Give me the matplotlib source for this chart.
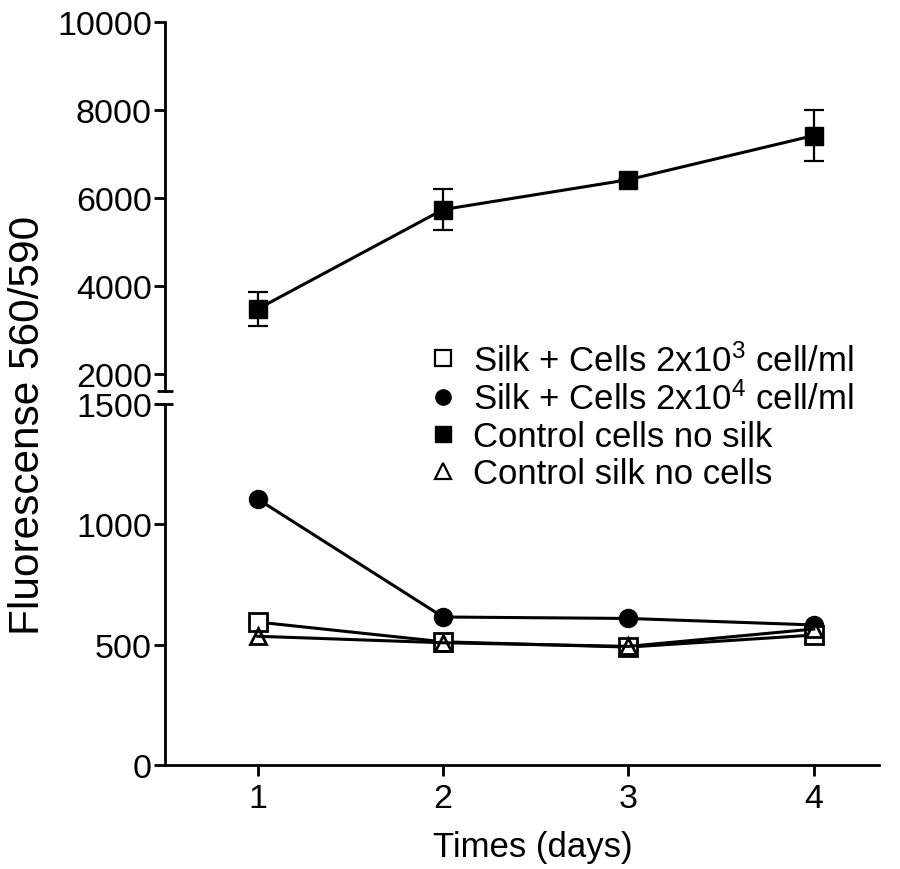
import numpy as np
import matplotlib
matplotlib.use("Agg")
import matplotlib.pyplot as plt
from matplotlib.lines import Line2D

plt.rcParams['font.family'] = ['Liberation Sans', 'DejaVu Sans']
plt.rcParams['mathtext.fontset'] = 'custom'
plt.rcParams['mathtext.rm'] = 'Liberation Sans'
plt.rcParams['mathtext.it'] = 'Liberation Sans'
plt.rcParams['mathtext.bf'] = 'Liberation Sans'

# data
days = [1, 2, 3, 4]
silk_2e3 = [594, 512, 490, 540]
silk_2e4 = [1105, 615, 609, 582]
control_cells = [3475, 5740, 6420, 7425]
control_cells_err = [380, 465, 0, 590]
control_silk = [535, 508, 493, 565]

labels = ['Silk + Cells 2x10$^{3}$ cell/ml',
          'Silk + Cells 2x10$^{4}$ cell/ml',
          'Control cells no silk',
          'Control silk no cells']

fig = plt.figure(figsize=(9, 8.7), dpi=100)
ax_top = fig.add_axes([0.1833, 0.549, 0.793, 0.424])
ax_bot = fig.add_axes([0.1833, 0.1195, 0.793, 0.415])

lw = 2.2
ms = 13

# upper segment
ax_top.errorbar(days, control_cells, yerr=control_cells_err, color='black',
                lw=lw, marker='s', ms=ms, capsize=7, capthick=1.6,
                elinewidth=1.6, zorder=3)

# lower segment
ax_bot.plot(days, silk_2e4, color='black', lw=lw, marker='o', ms=ms, zorder=3)
ax_bot.plot(days, silk_2e3, color='black', lw=lw, marker='s', ms=ms,
            mfc='white', mec='black', mew=2, zorder=4)
ax_bot.plot(days, control_silk, color='black', lw=lw, marker='^', ms=ms - 1,
            mfc='none', mec='black', mew=2, zorder=5)

for ax in (ax_top, ax_bot):
    ax.set_xlim(0.5, 4.35)
    ax.spines['top'].set_visible(False)
    ax.spines['right'].set_visible(False)
    ax.spines['left'].set_linewidth(2)
    ax.spines['bottom'].set_linewidth(2)
    ax.tick_params(axis='both', direction='out', length=8, width=2,
                   labelsize=24.5, pad=5)
    ax.tick_params(axis='y', pad=1.5)

ax_top.set_ylim(1600, 10000)
ax_top.set_yticks([2000, 4000, 6000, 8000, 10000])
ax_top.spines['bottom'].set_visible(False)
ax_top.tick_params(axis='x', bottom=False, labelbottom=False)

ax_bot.set_ylim(0, 1500)
ax_bot.set_yticks([0, 500, 1000, 1500])
ax_bot.set_xticks(days)

# break caps at the spine ends
ax_top.plot([0], [0], marker='_', ms=12, mew=2, color='black',
            transform=ax_top.transAxes, clip_on=False)
ax_bot.plot([0], [1], marker='_', ms=12, mew=2, color='black',
            transform=ax_bot.transAxes, clip_on=False)

fig.text(0.031, 0.511, 'Fluorescense 560/590', rotation=90, fontsize=30.5,
         ha='center', va='center')
fig.text(0.592, 0.026, 'Times (days)', fontsize=25, ha='center', va='center')

handles = [
    Line2D([], [], ls='none', marker='s', ms=11, mfc='white', mec='black', mew=1.6),
    Line2D([], [], ls='none', marker='o', ms=11, color='black'),
    Line2D([], [], ls='none', marker='s', ms=11, color='black'),
    Line2D([], [], ls='none', marker='^', ms=11, mfc='white', mec='black', mew=1.6),
]
fig.legend(handles, labels, loc='upper left', bbox_to_anchor=(428 / 900, 1 - 344 / 870),
           frameon=False, fontsize=25, borderpad=0, handlelength=0.87,
           handletextpad=0.42, labelspacing=0.12, borderaxespad=0)

fig.savefig('out.png', dpi=100)
